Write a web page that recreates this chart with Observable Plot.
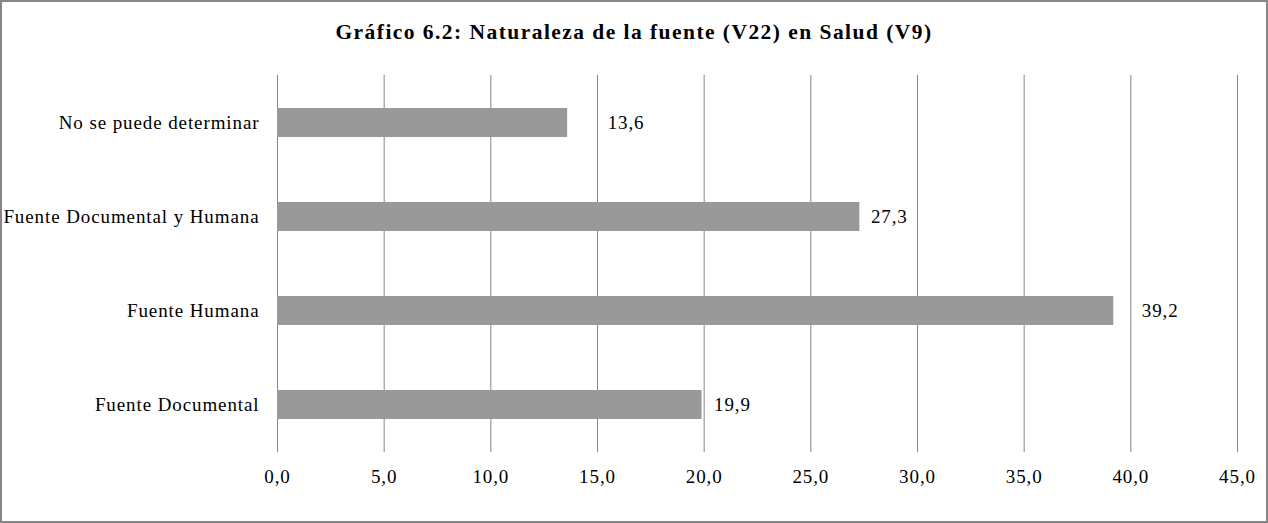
<!DOCTYPE html>
<html>
<head>
<meta charset="utf-8">
<script src="https://cdn.jsdelivr.net/npm/d3@7"></script>
<script src="https://cdn.jsdelivr.net/npm/@observablehq/plot@0.6"></script>
<style>
  html, body { margin: 0; padding: 0; background: #fff; }
  #frame {
    position: relative; width: 1268px; height: 523px; box-sizing: border-box;
    border: 2px solid #868686; background: #fff; overflow: hidden;
    font-family: "Liberation Serif", "Times New Roman", serif;
  }
  #title {
    height: 60px; line-height: 60px; text-align: center;
    font-weight: bold; font-size: 21.5px; letter-spacing: 1.45px; color: #000;
  }
  #chart svg { display: block; }
  #chart svg text { letter-spacing: 0.9px; }
</style>
</head>
<body>
<div id="frame">
  <div id="title">Gráfico 6.2: Naturaleza de la fuente (V22) en Salud (V9)</div>
  <div id="chart"></div>
</div>
<script>
const categories = ["No se puede determinar", "Fuente Documental y Humana", "Fuente Humana", "Fuente Documental"];
const values = [13.6, 27.3, 39.2, 19.9];
const xTicks = [0, 5, 10, 15, 20, 25, 30, 35, 40, 45];

const data = categories.map((c, i) => ({category: c, value: values[i]}));
const fmt = v => v.toFixed(1).replace(".", ",");
// label nudges as in the original (manually placed labels)
const labelGap = {"No se puede determinar": 40, "Fuente Documental y Humana": 11, "Fuente Humana": 28, "Fuente Documental": 12};

const chart = Plot.plot({
  width: 1264,
  height: 459,
  marginLeft: 275,
  marginRight: 29,
  marginTop: 13,
  marginBottom: 69,
  style: {fontFamily: "'Liberation Serif', 'Times New Roman', serif", fontSize: "19px", color: "#000", background: "#fff"},
  x: {domain: [0, 45]},
  y: {domain: categories, paddingInner: 0.69, paddingOuter: 0.345},
  marks: [
    Plot.ruleX(xTicks, {stroke: "#868686", strokeOpacity: 1}),
    Plot.barX(data, {x: "value", y: "category", fill: "#999999"}),
    ...data.map(d => Plot.text([d], {
      x: "value", y: "category", text: r => fmt(r.value),
      textAnchor: "start", dx: labelGap[d.category], fill: "#000"
    })),
    Plot.axisX({ticks: xTicks, tickSize: 0, tickPadding: 17, tickFormat: fmt, line: true, stroke: "#868686", fill: "#000", label: null}),
    Plot.axisY({tickSize: 0, tickPadding: 18, fill: "#000", label: null})
  ]
});
document.getElementById("chart").appendChild(chart);
</script>
</body>
</html>
